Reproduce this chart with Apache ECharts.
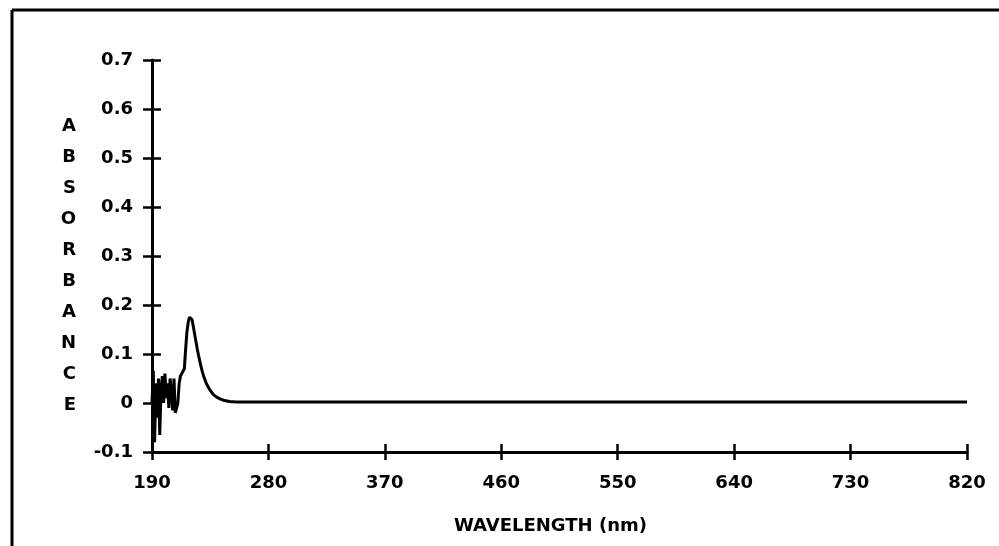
<!DOCTYPE html>
<html>
<head>
<meta charset="utf-8">
<script src="https://cdn.jsdelivr.net/npm/echarts@6/dist/echarts.min.js"></script>
<style>
  html, body { margin: 0; padding: 0; background: #fff; }
  #chart { width: 999px; height: 546px; }
</style>
</head>
<body>
<div id="chart"></div>
<script>
// wavelength (nm) and absorbance
const wavelengths = [
  190, 191, 192, 193, 194, 195, 196, 197, 198, 199,
  200, 201, 202, 203, 204, 205, 206, 207, 208, 209,
  210, 211, 212, 213, 214, 215, 216, 217, 218, 219,
  220, 221, 222, 223, 224, 225, 226, 227, 228, 229,
  230, 232, 234, 236, 238, 240, 243, 246, 250, 255,
  260, 300, 400, 500, 600, 700, 820
];
const absorbance = [
  0.00, 0.065, -0.08, 0.04, -0.03, 0.05, -0.065, 0.03, 0.055, 0.00,
  0.06, 0.01, 0.04, -0.01, 0.05, 0.02, -0.015, 0.05, -0.02, -0.02,
  0.00, 0.04, 0.055, 0.06, 0.065, 0.07, 0.11, 0.145, 0.165, 0.175,
  0.178, 0.17, 0.155, 0.14, 0.125, 0.11, 0.097, 0.085, 0.073, 0.063,
  0.054, 0.04, 0.03, 0.022, 0.016, 0.012, 0.008, 0.005, 0.003, 0.002,
  0.002, 0.002, 0.002, 0.002, 0.002, 0.002, 0.002
];
const xStart = 190;   // first wavelength tick
const xStep = 90;     // wavelength tick spacing
const xEnd = 820;
const yTitle = 'ABSORBANCE';

const font = 'DejaVu Sans';
const ink = '#000';

const chart = echarts.init(document.getElementById('chart'));

// x axis counted from 0 so ticks fall on 190, 280, ... 820
const points = wavelengths.map((w, i) => [w - xStart, absorbance[i]]);

// stacked letters, with a short spacer line on top to push them down a bit
const yName = '{g| }\n' + yTitle.split('').join('\n');

const option = {
  animation: false,
  backgroundColor: '#fff',
  grid: { left: 152, right: 32, top: 60, bottom: 94 },
  xAxis: [
    {
      type: 'value',
      position: 'bottom',
      min: 0,
      max: xEnd - xStart,
      interval: xStep,
      name: 'WAVELENGTH (nm)',
      nameLocation: 'middle',
      nameGap: 65,
      nameTextStyle: { fontFamily: font, fontWeight: 'bold', fontSize: 18, color: ink, padding: [0, 18, 0, 0] },
      axisLine: { onZero: false, lineStyle: { color: ink, width: 3 } },
      axisTick: { length: 8, lineStyle: { color: ink, width: 2.5 } },
      axisLabel: { margin: 22, fontFamily: font, fontWeight: 'bold', fontSize: 18, color: ink,
        formatter: v => String(v + xStart) },
      splitLine: { show: false }
    },
    {
      type: 'value',
      position: 'bottom',
      min: 0,
      max: xEnd - xStart,
      interval: xStep,
      axisLine: { show: false, onZero: false },
      axisTick: { inside: true, length: 8, lineStyle: { color: ink, width: 2.5 } },
      axisLabel: { show: false },
      splitLine: { show: false }
    }
  ],
  yAxis: [
    {
      type: 'value',
      position: 'left',
      min: -0.1,
      max: 0.7,
      interval: 0.1,
      name: yName,
      nameLocation: 'middle',
      nameRotate: 0,
      nameGap: 76,
      nameTextStyle: { fontFamily: font, fontWeight: 'bold', fontSize: 18, color: ink, lineHeight: 31,
        rich: { g: { lineHeight: 20, fontSize: 10 } } },
      axisLine: { onZero: false, lineStyle: { color: ink, width: 3 } },
      axisTick: { length: 9, lineStyle: { color: ink, width: 2.5 } },
      axisLabel: { margin: 19, fontFamily: font, fontWeight: 'bold', fontSize: 18, color: ink,
        formatter: v => (Math.abs(v) < 1e-9 ? '0' : String(+v.toFixed(1))) },
      splitLine: { show: false }
    },
    {
      type: 'value',
      position: 'left',
      min: -0.1,
      max: 0.7,
      interval: 0.1,
      axisLine: { show: false, onZero: false },
      axisTick: { inside: true, length: 9, lineStyle: { color: ink, width: 2.5 } },
      axisLabel: { show: false },
      splitLine: { show: false }
    }
  ],
  graphic: [
    // scanned page frame
    { type: 'line', shape: { x1: 12, y1: 10, x2: 999, y2: 10 }, style: { stroke: ink, lineWidth: 3 } },
    { type: 'line', shape: { x1: 12, y1: 10, x2: 12, y2: 546 }, style: { stroke: ink, lineWidth: 3 } }
  ],
  series: [
    {
      type: 'line',
      data: points,
      showSymbol: false,
      smooth: false,
      lineStyle: { color: ink, width: 3 },
      clip: true
    }
  ]
};

chart.setOption(option);
window.addEventListener('resize', () => chart.resize());
</script>
</body>
</html>
